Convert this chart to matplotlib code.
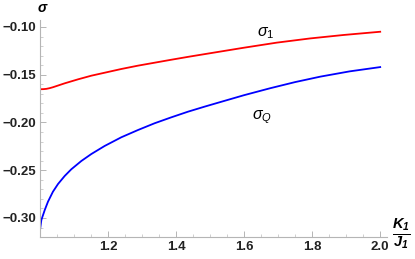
import matplotlib
matplotlib.use("Agg")
import matplotlib.pyplot as plt
from matplotlib.ticker import MultipleLocator, FormatStrFormatter

plt.rcParams['mathtext.fontset'] = 'custom'
plt.rcParams['mathtext.it'] = 'Liberation Sans:italic'
plt.rcParams['mathtext.rm'] = 'Liberation Sans'
plt.rcParams['mathtext.bf'] = 'Liberation Sans:bold:italic'

# data
x_sigma1 = [1.0, 1.01, 1.0186, 1.028, 1.038, 1.0726, 1.112, 1.151, 1.190, 1.239, 1.288,
            1.337, 1.386, 1.44, 1.5, 1.598, 1.696, 1.794, 1.892, 2.0]
y_sigma1 = [-0.1652, -0.1651, -0.1648, -0.1641, -0.1631, -0.1590, -0.1548, -0.1510,
            -0.1479, -0.1440, -0.1405, -0.1374, -0.1343, -0.1310, -0.1275, -0.1218,
            -0.1164, -0.1120, -0.1084, -0.1050]

x_sigmaQ = [1.0, 1.004, 1.014, 1.0235, 1.038, 1.053, 1.0726, 1.092, 1.1216, 1.151, 1.190,
            1.239, 1.288, 1.337, 1.386, 1.435, 1.484, 1.5235, 1.60, 1.676, 1.75, 1.824,
            1.91, 2.0]
y_sigmaQ = [-0.3126, -0.3021, -0.2916, -0.2829, -0.2725, -0.2644, -0.2560, -0.2490,
            -0.2403, -0.2330, -0.2246, -0.2155, -0.2079, -0.2008, -0.1946, -0.1887,
            -0.1834, -0.1793, -0.1714, -0.1642, -0.1577, -0.1520, -0.1465, -0.1420]

x_ticks = [1.2, 1.4, 1.6, 1.8, 2.0]
y_ticks = [-0.30, -0.25, -0.20, -0.15, -0.10]

fig = plt.figure(figsize=(4.15, 2.59), dpi=100)
ax = fig.add_axes([40/415, (259-236.7)/259, (387-40)/415, (236.7-20)/259])

ax.plot(x_sigma1, y_sigma1, color='#ff0000', lw=1.3, solid_joinstyle='round')
ax.plot(x_sigmaQ, y_sigmaQ, color='#0000ff', lw=1.3, solid_joinstyle='round')

ax.set_xlim(1.0, 2.02)
ax.set_ylim(-0.3196, -0.0927)

for s in ['top', 'right']:
    ax.spines[s].set_visible(False)
for s in ['left', 'bottom']:
    ax.spines[s].set_color('#b5b5b5')
    ax.spines[s].set_linewidth(0.8)

ax.set_xticks(x_ticks)
ax.set_yticks(y_ticks)
ax.xaxis.set_minor_locator(MultipleLocator(0.05))
ax.yaxis.set_minor_locator(MultipleLocator(0.01))
ax.tick_params(which='major', direction='in', length=4, width=0.7, color='#b5b5b5',
               labelsize=9.5, pad=3)
ax.tick_params(which='minor', direction='in', length=2, width=0.6, color='#c8c8c8')
ax.set_xticklabels(['%.1f' % v for v in x_ticks], fontfamily='Liberation Sans',
                   fontweight='bold', color='#222222', fontsize=9.5)
ax.set_yticklabels(['\u2212%.2f' % abs(v) for v in y_ticks], fontfamily='Liberation Sans',
                   fontweight='bold', color='#222222', fontsize=9.5)

ax.text(1.662, -0.1065, r'$\sigma_1$', fontsize=11.5, ha='center', va='center')
ax.text(1.653, -0.194, r'$\sigma_Q$', fontsize=11.5, ha='center', va='center')

ax.text(1.009, -0.0805, r'$\mathbf{\sigma}$', fontsize=10, ha='center', va='center',
        clip_on=False)
ax.text(2.062, -0.3168, r'$\frac{\mathbf{K_1}}{\mathbf{J_1}}$', fontsize=15,
        ha='center', va='center', clip_on=False)

fig.savefig('out.png', dpi=100)
